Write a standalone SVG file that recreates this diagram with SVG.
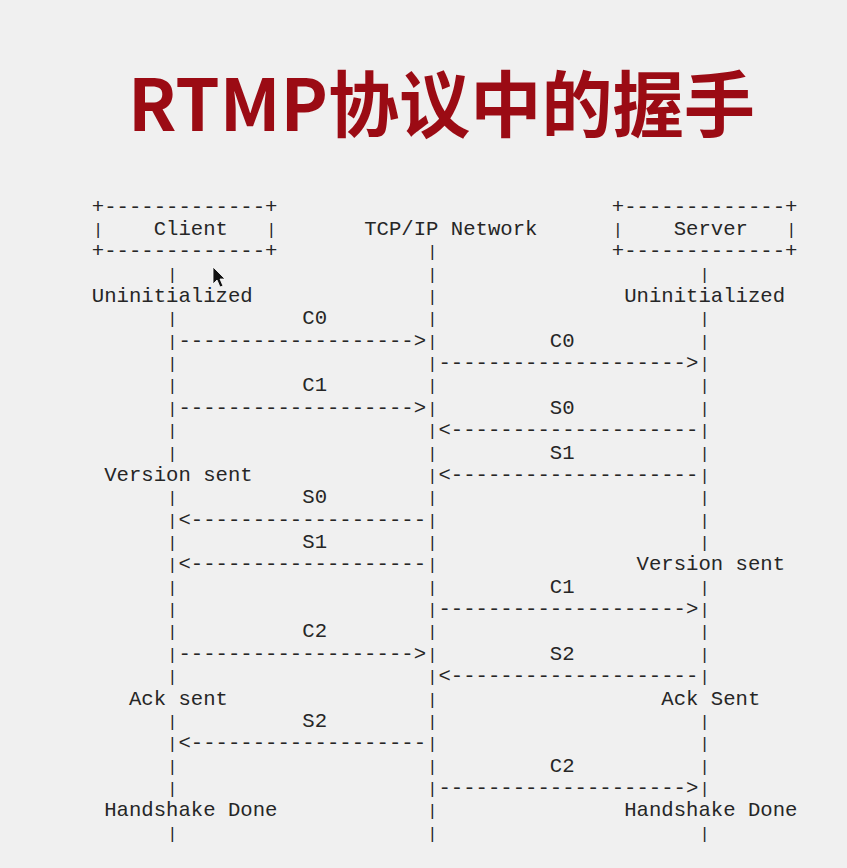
<svg xmlns="http://www.w3.org/2000/svg" width="847" height="868" viewBox="0 0 847 868">
<style>
.m{font-family:"Liberation Mono","DejaVu Sans Mono",monospace;font-size:20.63px;fill:#262626}
.b{font-family:"Liberation Mono","DejaVu Sans Mono",monospace;font-size:17px;fill:#262626}
.t{font-family:"Noto Sans CJK SC","Noto Sans",sans-serif;font-size:72px;font-weight:bold;fill:#9b0b14}
</style>
<rect x="0" y="0" width="847" height="868" fill="#f0f0f0"/>
<text class="t" x="441.5" y="131" text-anchor="middle" textLength="627" lengthAdjust="spacingAndGlyphs">RTMP协议中的握手</text>

<g id="client">
  <text class="m" x="91.81" y="212.6">+-------------+</text>
  <text class="b" x="92.9" y="234.96">|</text>
  <text class="m" x="153.71" y="234.96">Client</text>
  <text class="b" x="266.22" y="234.96">|</text>
  <text class="m" x="91.81" y="257.32">+-------------+</text>
  <text class="m" x="91.81" y="302.04">Uninitialized</text>
  <text class="m" x="104.19" y="480.92">Version sent</text>
  <text class="m" x="128.95" y="704.52">Ack sent</text>
  <text class="m" x="104.19" y="816.32">Handshake Done</text>
  <text class="b">
    <tspan x="167.18" y="279.68">|</tspan>
    <tspan x="167.18" y="324.4">|</tspan>
    <tspan x="167.18" y="346.76">|</tspan>
    <tspan x="167.18" y="369.12">|</tspan>
    <tspan x="167.18" y="391.48">|</tspan>
    <tspan x="167.18" y="413.84">|</tspan>
    <tspan x="167.18" y="436.2">|</tspan>
    <tspan x="167.18" y="458.56">|</tspan>
    <tspan x="167.18" y="503.28">|</tspan>
    <tspan x="167.18" y="525.64">|</tspan>
    <tspan x="167.18" y="548">|</tspan>
    <tspan x="167.18" y="570.36">|</tspan>
    <tspan x="167.18" y="592.72">|</tspan>
    <tspan x="167.18" y="615.08">|</tspan>
    <tspan x="167.18" y="637.44">|</tspan>
    <tspan x="167.18" y="659.8">|</tspan>
    <tspan x="167.18" y="682.16">|</tspan>
    <tspan x="167.18" y="726.88">|</tspan>
    <tspan x="167.18" y="749.24">|</tspan>
    <tspan x="167.18" y="771.6">|</tspan>
    <tspan x="167.18" y="793.96">|</tspan>
    <tspan x="167.18" y="838.68">|</tspan>
  </text>
</g>

<g id="network">
  <text class="m" x="364.17" y="234.96">TCP/IP Network</text>
  <text class="b">
    <tspan x="427.16" y="257.32">|</tspan>
    <tspan x="427.16" y="279.68">|</tspan>
    <tspan x="427.16" y="302.04">|</tspan>
    <tspan x="427.16" y="324.4">|</tspan>
    <tspan x="427.16" y="346.76">|</tspan>
    <tspan x="427.16" y="369.12">|</tspan>
    <tspan x="427.16" y="391.48">|</tspan>
    <tspan x="427.16" y="413.84">|</tspan>
    <tspan x="427.16" y="436.2">|</tspan>
    <tspan x="427.16" y="458.56">|</tspan>
    <tspan x="427.16" y="480.92">|</tspan>
    <tspan x="427.16" y="503.28">|</tspan>
    <tspan x="427.16" y="525.64">|</tspan>
    <tspan x="427.16" y="548">|</tspan>
    <tspan x="427.16" y="570.36">|</tspan>
    <tspan x="427.16" y="592.72">|</tspan>
    <tspan x="427.16" y="615.08">|</tspan>
    <tspan x="427.16" y="637.44">|</tspan>
    <tspan x="427.16" y="659.8">|</tspan>
    <tspan x="427.16" y="682.16">|</tspan>
    <tspan x="427.16" y="704.52">|</tspan>
    <tspan x="427.16" y="726.88">|</tspan>
    <tspan x="427.16" y="749.24">|</tspan>
    <tspan x="427.16" y="771.6">|</tspan>
    <tspan x="427.16" y="793.96">|</tspan>
    <tspan x="427.16" y="816.32">|</tspan>
    <tspan x="427.16" y="838.68">|</tspan>
  </text>
</g>

<g id="server">
  <text class="m" x="611.77" y="212.6">+-------------+</text>
  <text class="b" x="612.86" y="234.96">|</text>
  <text class="m" x="673.67" y="234.96">Server</text>
  <text class="b" x="786.18" y="234.96">|</text>
  <text class="m" x="611.77" y="257.32">+-------------+</text>
  <text class="m" x="624.15" y="302.04">Uninitialized</text>
  <text class="m" x="636.53" y="570.36">Version sent</text>
  <text class="m" x="661.29" y="704.52">Ack Sent</text>
  <text class="m" x="624.15" y="816.32">Handshake Done</text>
  <text class="b">
    <tspan x="699.52" y="279.68">|</tspan>
    <tspan x="699.52" y="324.4">|</tspan>
    <tspan x="699.52" y="346.76">|</tspan>
    <tspan x="699.52" y="369.12">|</tspan>
    <tspan x="699.52" y="391.48">|</tspan>
    <tspan x="699.52" y="413.84">|</tspan>
    <tspan x="699.52" y="436.2">|</tspan>
    <tspan x="699.52" y="458.56">|</tspan>
    <tspan x="699.52" y="480.92">|</tspan>
    <tspan x="699.52" y="503.28">|</tspan>
    <tspan x="699.52" y="525.64">|</tspan>
    <tspan x="699.52" y="548">|</tspan>
    <tspan x="699.52" y="592.72">|</tspan>
    <tspan x="699.52" y="615.08">|</tspan>
    <tspan x="699.52" y="637.44">|</tspan>
    <tspan x="699.52" y="659.8">|</tspan>
    <tspan x="699.52" y="682.16">|</tspan>
    <tspan x="699.52" y="726.88">|</tspan>
    <tspan x="699.52" y="749.24">|</tspan>
    <tspan x="699.52" y="771.6">|</tspan>
    <tspan x="699.52" y="793.96">|</tspan>
    <tspan x="699.52" y="838.68">|</tspan>
  </text>
</g>

<g id="connectors">
  <text class="m" x="302.27" y="324.4">C0</text>
  <text class="m" x="178.47" y="346.76">-------------------&gt;</text>
  <text class="m" x="549.87" y="346.76">C0</text>
  <text class="m" x="438.45" y="369.12">--------------------&gt;</text>
  <text class="m" x="302.27" y="391.48">C1</text>
  <text class="m" x="178.47" y="413.84">-------------------&gt;</text>
  <text class="m" x="549.87" y="413.84">S0</text>
  <text class="m" x="438.45" y="436.2">&lt;--------------------</text>
  <text class="m" x="549.87" y="458.56">S1</text>
  <text class="m" x="438.45" y="480.92">&lt;--------------------</text>
  <text class="m" x="302.27" y="503.28">S0</text>
  <text class="m" x="178.47" y="525.64">&lt;-------------------</text>
  <text class="m" x="302.27" y="548">S1</text>
  <text class="m" x="178.47" y="570.36">&lt;-------------------</text>
  <text class="m" x="549.87" y="592.72">C1</text>
  <text class="m" x="438.45" y="615.08">--------------------&gt;</text>
  <text class="m" x="302.27" y="637.44">C2</text>
  <text class="m" x="178.47" y="659.8">-------------------&gt;</text>
  <text class="m" x="549.87" y="659.8">S2</text>
  <text class="m" x="438.45" y="682.16">&lt;--------------------</text>
  <text class="m" x="302.27" y="726.88">S2</text>
  <text class="m" x="178.47" y="749.24">&lt;-------------------</text>
  <text class="m" x="549.87" y="771.6">C2</text>
  <text class="m" x="438.45" y="793.96">--------------------&gt;</text>
</g>

<polygon points="213,267 213,284 217,280 220,287 223,286 220,279 225,279" fill="#111" stroke="#fff" stroke-width="0.8"/>
</svg>
